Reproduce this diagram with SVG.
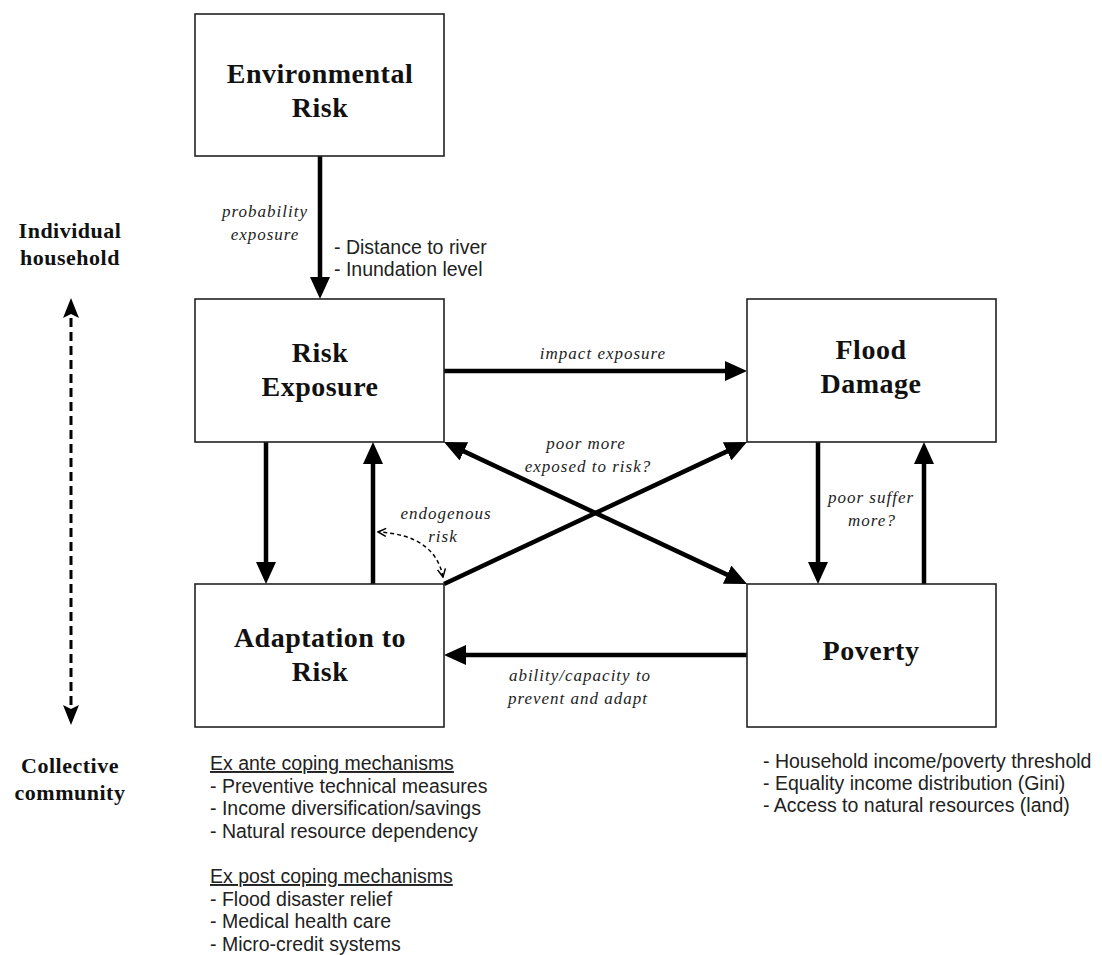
<svg xmlns="http://www.w3.org/2000/svg" width="1102" height="955" viewBox="0 0 1102 955">
<style>
.box{fill:#fff;stroke:#222;stroke-width:1.6}
.title{font-family:"Liberation Serif","Times New Roman",serif;font-weight:bold;font-size:28px;letter-spacing:0.5px;text-anchor:middle;fill:#111}
.side{font-family:"Liberation Serif","Times New Roman",serif;font-weight:bold;font-size:22px;letter-spacing:0.5px;text-anchor:middle;fill:#111}
.it{font-family:"Liberation Serif","Times New Roman",serif;font-style:italic;font-size:17px;letter-spacing:1px;text-anchor:middle;fill:#222}
.note{font-family:"Liberation Sans",Arial,sans-serif;font-size:19.5px;fill:#222}
.arr{stroke:#000;stroke-width:4.5;fill:none}
</style>
<defs>
<marker id="ah" viewBox="0 0 22 20" refX="14" refY="10" markerWidth="22" markerHeight="20" markerUnits="userSpaceOnUse" orient="auto-start-reverse"><path d="M0,0 L22,10 L0,20 z" fill="#000"/></marker>
<marker id="dh" viewBox="0 0 20 16" refX="14" refY="8" markerWidth="20" markerHeight="16" markerUnits="userSpaceOnUse" orient="auto-start-reverse"><path d="M0,0 L20,8 L0,16 L4,8 z" fill="#000"/></marker>
<marker id="ch" viewBox="0 0 10 10" refX="9" refY="5" markerWidth="10" markerHeight="10" markerUnits="userSpaceOnUse" orient="auto-start-reverse"><path d="M1,1 L9,5 L1,9" fill="none" stroke="#000" stroke-width="1.5"/></marker>
</defs>

<g id="connectors">
<line class="arr" x1="320" y1="156" x2="320" y2="291" marker-end="url(#ah)"/>
<line class="arr" x1="444" y1="371" x2="739" y2="371" marker-end="url(#ah)"/>
<line class="arr" x1="266" y1="442" x2="266" y2="576" marker-end="url(#ah)"/>
<line class="arr" x1="373" y1="584" x2="373" y2="450" marker-end="url(#ah)"/>
<line class="arr" x1="818" y1="442" x2="818" y2="576" marker-end="url(#ah)"/>
<line class="arr" x1="924" y1="584" x2="924" y2="450" marker-end="url(#ah)"/>
<line class="arr" x1="747" y1="655" x2="452" y2="655" marker-end="url(#ah)"/>
<line class="arr" x1="451.2" y1="445.4" x2="739.8" y2="580.6" marker-start="url(#ah)" marker-end="url(#ah)"/>
<line class="arr" x1="444" y1="584" x2="739.8" y2="445.4" marker-end="url(#ah)"/>
<path d="M443,577 Q435,535 378,532" fill="none" stroke="#000" stroke-width="1.5" stroke-dasharray="4 3" marker-start="url(#ch)" marker-end="url(#ch)"/>
<line x1="71" y1="304" x2="71" y2="719" stroke="#000" stroke-width="3" stroke-dasharray="9 5" marker-start="url(#dh)" marker-end="url(#dh)"/>
</g>

<g id="env-risk">
<rect class="box" x="195" y="14" width="249" height="142"/>
<text class="title" x="320" y="83">Environmental</text>
<text class="title" x="320" y="117">Risk</text>
</g>
<g id="risk-exposure">
<rect class="box" x="195" y="299" width="249" height="143"/>
<text class="title" x="320" y="362">Risk</text>
<text class="title" x="320" y="396">Exposure</text>
</g>
<g id="flood-damage">
<rect class="box" x="747" y="299" width="249" height="143"/>
<text class="title" x="871" y="359">Flood</text>
<text class="title" x="871" y="393">Damage</text>
</g>
<g id="adaptation">
<rect class="box" x="195" y="584" width="249" height="143"/>
<text class="title" x="320" y="647">Adaptation to</text>
<text class="title" x="320" y="681">Risk</text>
</g>
<g id="poverty">
<rect class="box" x="747" y="584" width="249" height="143"/>
<text class="title" x="871" y="660">Poverty</text>
</g>

<g id="scale-labels">
<text class="side" x="70" y="238">Individual</text>
<text class="side" x="70" y="265">household</text>
<text class="side" x="70" y="773">Collective</text>
<text class="side" x="70" y="800">community</text>
</g>

<g id="edge-labels">
<text class="it" x="265" y="217">probability</text>
<text class="it" x="265" y="240">exposure</text>
<text class="it" x="603" y="359">impact exposure</text>
<text class="it" x="586" y="449">poor more</text>
<text class="it" x="588" y="472">exposed to risk?</text>
<text class="it" x="446" y="519">endogenous</text>
<text class="it" x="443" y="542">risk</text>
<text class="it" x="871" y="503">poor suffer</text>
<text class="it" x="872" y="526">more?</text>
<text class="it" x="580" y="681">ability/capacity to</text>
<text class="it" x="578" y="704">prevent and adapt</text>
</g>

<g id="notes">
<text class="note" x="334" y="254">- Distance to river</text>
<text class="note" x="334" y="276">- Inundation level</text>
<text class="note" x="210" y="770" text-decoration="underline">Ex ante coping mechanisms</text>
<text class="note" x="210" y="793">- Preventive technical measures</text>
<text class="note" x="210" y="815">- Income diversification/savings</text>
<text class="note" x="210" y="838">- Natural resource dependency</text>
<text class="note" x="210" y="883" text-decoration="underline">Ex post coping mechanisms</text>
<text class="note" x="210" y="906">- Flood disaster relief</text>
<text class="note" x="210" y="928">- Medical health care</text>
<text class="note" x="210" y="951">- Micro-credit systems</text>
<text class="note" x="763" y="768">- Household income/poverty threshold</text>
<text class="note" x="763" y="790">- Equality income distribution (Gini)</text>
<text class="note" x="763" y="812">- Access to natural resources (land)</text>
</g>
</svg>
